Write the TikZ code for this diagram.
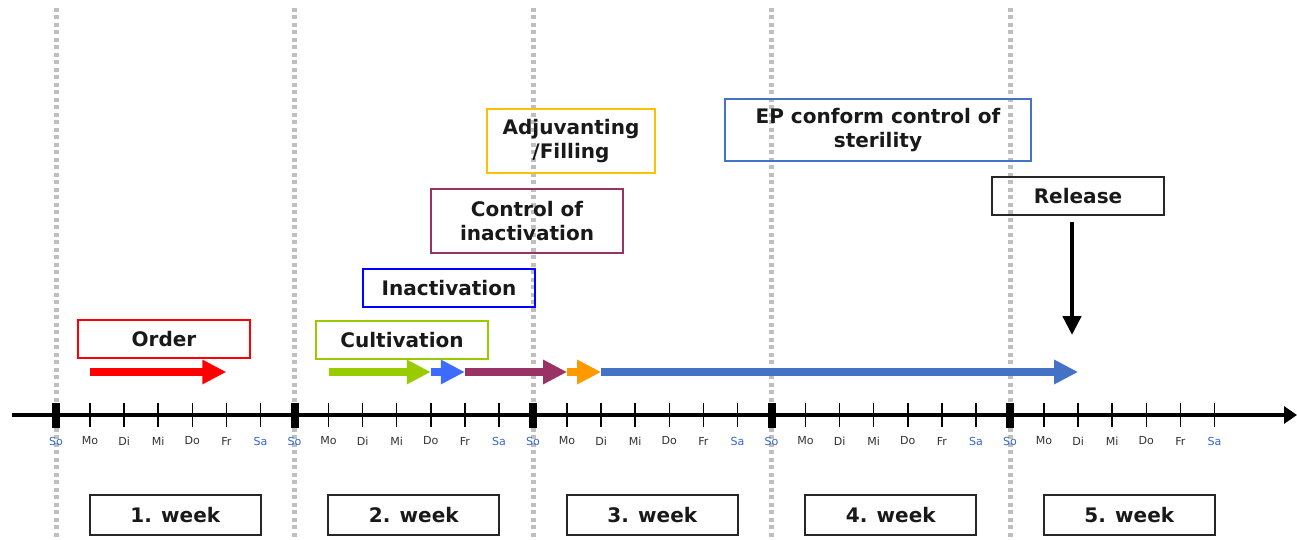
\documentclass[tikz,border=0pt]{standalone}
\usepackage{fontspec}
\setmainfont{DejaVu Sans}
\usepackage{xcolor}
\usetikzlibrary{arrows.meta,positioning}

\definecolor{orderRed}{HTML}{FF0000}
\definecolor{cultGreen}{HTML}{99CC00}
\definecolor{inactBlue}{HTML}{0000FF}
\definecolor{arrowBlue}{HTML}{3D6BFF}
\definecolor{ctrlPlum}{HTML}{993366}
\definecolor{fillGold}{HTML}{FFC000}
\definecolor{fillOrange}{HTML}{FF9900}
\definecolor{sterBlue}{HTML}{4472C4}
\definecolor{dayBlue}{HTML}{3366CC}
\definecolor{weekGray}{HTML}{BFBFBF}

\tikzset{
    phaseBox/.style={draw, line width=0.04cm, minimum width=3.44cm, minimum height=0.78cm,
        inner sep=0pt, align=center, text=black!90,
        font=\fontsize{11.4}{13.7}\selectfont\bfseries},
    weekBox/.style={phaseBox, draw=black!85, minimum width=3.42cm, minimum height=0.8cm},
    dayLabel/.style={font=\fontsize{6.3}{7}\selectfont, text=black!80},
    weekendLabel/.style={dayLabel, text=dayBlue},
    phaseArrow/.style={line width=0.16cm, -{Triangle[length=0.48cm,width=0.46cm]}},
    weekLine/.style={draw=weekGray, line width=0.1cm, dash pattern=on 0.08cm off 0.07cm},
}

\begin{document}
\begin{tikzpicture}[x=0.02cm, y=-0.02cm]
    \useasboundingbox (0,0) rectangle (1297,540);

    % reference points
    \coordinate (top) at (0,8);
    \coordinate (bottom) at (0,540);
    \coordinate (axisStart) at (12,415);
    \coordinate (axisEnd) at (1297,415);
    \coordinate (phaseRow) at (0,372);
    \foreach \w in {0,...,4} {
        \coordinate (so\w) at ({56+238.5*\w},415);
        \foreach \day [count=\d] in {Mo,Di,Mi,Do,Fr,Sa}
            \coordinate (w\w\day) at ({56+238.5*\w+34.07*\d},415);
    }

    % week separators
    \foreach \w in {0,...,4}
        \draw[weekLine] (so\w |- top) -- (so\w |- bottom);

    % time axis
    \draw[line width=0.08cm, -{Triangle[length=0.26cm,width=0.34cm]}] (axisStart) -- (axisEnd);
    \foreach \w in {0,...,4} {
        \fill ([xshift=-0.08cm,yshift=0.24cm]so\w) rectangle ([xshift=0.08cm,yshift=-0.26cm]so\w);
        \node[weekendLabel] at ([yshift=-0.52cm]so\w) {So};
        \foreach \day in {Mo,Di,Mi,Do,Fr,Sa} {
            \draw[line width=0.03cm] ([yshift=0.24cm]w\w\day) -- ([yshift=-0.24cm]w\w\day);
        }
        \foreach \day in {Mo,Di,Mi,Do,Fr}
            \node[dayLabel] at ([yshift=-0.52cm]w\w\day) {\day};
        \node[weekendLabel] at ([yshift=-0.52cm]w\w Sa) {Sa};
        \pgfmathtruncatemacro{\n}{\w+1}
        \node[weekBox] (week\n) at ({56+238.5*\w+119.25},515) {\n. week};
    }

    % phases
    \node[phaseBox, draw=orderRed] (order) at (164,339) {Order};
    \node[phaseBox, draw=cultGreen] (cultivation) at (402,340) {Cultivation};
    \node[phaseBox, draw=inactBlue] (inactivation) at (449,288) {Inactivation};
    \node[phaseBox, draw=ctrlPlum, minimum width=3.84cm, minimum height=1.3cm] (ctrlInact) at (527,221) {Control of\\inactivation};
    \node[phaseBox, draw=fillGold, minimum width=3.36cm, minimum height=1.3cm] (adjFill) at (571,141) {Adjuvanting\\/Filling};
    \node[phaseBox, draw=sterBlue, minimum width=6.14cm, minimum height=1.26cm] (epSterility) at (878,130) {EP conform control of\\sterility};
    \node[phaseBox, draw=black!85] (release) at (1078,196) {Release};

    % phase arrows
    \draw[phaseArrow, orderRed] (w0Mo |- phaseRow) -- (w0Fr |- phaseRow);
    \draw[phaseArrow, cultGreen] (w1Mo |- phaseRow) -- (w1Do |- phaseRow);
    \draw[phaseArrow, arrowBlue] (w1Do |- phaseRow) -- (w1Fr |- phaseRow);
    \draw[phaseArrow, ctrlPlum] (w1Fr |- phaseRow) -- (w2Mo |- phaseRow);
    \draw[phaseArrow, fillOrange] (w2Mo |- phaseRow) -- (w2Di |- phaseRow);
    \draw[phaseArrow, sterBlue] (w2Di |- phaseRow) -- (w4Di |- phaseRow);

    % release marker
    \coordinate (releaseEnd) at (1072,335);
    \draw[line width=0.09cm, -{Triangle[length=0.38cm,width=0.36cm]}, shorten <=0.12cm]
        (release.south -| releaseEnd) -- (releaseEnd);
\end{tikzpicture}
\end{document}
